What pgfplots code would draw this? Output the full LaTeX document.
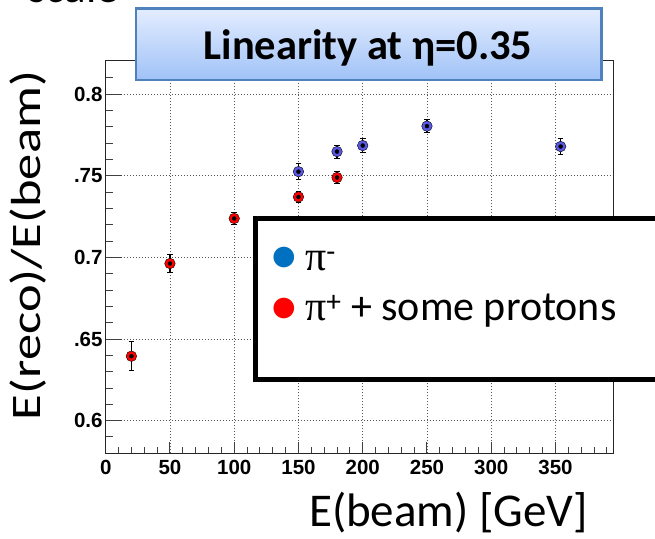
\documentclass[border=0pt]{standalone}
\usepackage{pgfplots}
\pgfplotsset{compat=1.18}
\usepackage{fontspec}
\setmainfont{Carlito}
\newfontfamily\arialfont{Liberation Sans}
\newfontfamily\serifpi{Liberation Serif}
\newfontfamily\dejavu{DejaVu Sans}
\definecolor{pimcol}{RGB}{88,88,228}
\definecolor{pipcol}{RGB}{255,0,0}
\definecolor{legblue}{RGB}{0,112,192}
\definecolor{titletop}{RGB}{228,237,255}
\definecolor{titlebot}{RGB}{160,194,247}
\definecolor{titleborder}{RGB}{79,129,189}

\pgfplotstableread{
x y e
150 0.7526 0.0047
180 0.7649 0.0040
200 0.7686 0.0043
250 0.7805 0.0040
354 0.7680 0.0047
}\pimdata

\pgfplotstableread{
x y e
20  0.6395 0.0090
50  0.6963 0.0053
100 0.7239 0.0036
150 0.7371 0.0036
180 0.7490 0.0036
}\pipdata

\begin{document}
\begin{tikzpicture}[x=1bp,y=1bp]
\fill[white] (0,0) rectangle (655,539);
\node[anchor=base west, inner sep=0, font=\fontsize{45bp}{50bp}\selectfont] at (28,536) {scale};
\begin{axis}[
  at={(105.7bp,85.7bp)}, anchor=south west, scale only axis,
  width=507.6bp, height=392.6bp,
  xmin=0, xmax=395, ymin=0.58, ymax=0.8206,
  xtick={0,50,100,150,200,250,300,350},
  xticklabels={0,50,100,150,200,250,300,350},
  ytick={0.6,0.65,0.7,0.75,0.8},
  yticklabels={0.6,.65,0.7,.75,0.8},
  minor xtick={10,20,30,40,60,70,80,90,110,120,130,140,160,170,180,190,210,220,230,240,260,270,280,290,310,320,330,340,360,370,380,390},
  minor ytick={0.59,0.61,0.62,0.63,0.64,0.66,0.67,0.68,0.69,0.71,0.72,0.73,0.74,0.76,0.77,0.78,0.79,0.81},
  xtick pos=left, ytick pos=left, tick align=inside,
  major x tick style={/pgfplots/major tick length=11bp},
  minor x tick style={/pgfplots/minor tick length=6bp},
  major y tick style={/pgfplots/major tick length=16bp},
  minor y tick style={/pgfplots/minor tick length=7.5bp},
  tick style={line width=1bp, color=black!75},
  grid=major,
  major grid style={line width=0.8bp, dash pattern=on 1bp off 2bp, black!65},
  axis line style={line width=1.1bp, black!85},
  ticklabel style={font=\arialfont\bfseries\fontsize{20.5bp}{24bp}\selectfont},
  xticklabel style={inner sep=0bp, yshift=-6.5bp},
  yticklabel style={inner sep=0bp, xshift=-3bp},
  xlabel={E(beam) [GeV]},
  xlabel style={at={(axis description cs:0.6753,-0.1852)}, anchor=base, inner sep=0pt, font=\fontsize{47bp}{52bp}\selectfont},
  ylabel={\scalebox{1.25}[1]{E(reco)/E(beam)}},
  ylabel style={at={(axis description cs:-0.1294,0.5293)}, anchor=base, inner sep=0pt, font=\fontsize{42bp}{46bp}\selectfont},
]
\addplot[only marks, mark=*, mark size=5.3bp, mark options={draw=none, fill=pimcol}] table[x=x,y=y] {\pimdata};
\addplot[only marks, mark=*, mark size=5.3bp, mark options={draw=none, fill=pipcol}] table[x=x,y=y] {\pipdata};
\addplot[only marks, mark=none, black, error bars/.cd, y dir=both, y explicit,
  error bar style={line width=1.2bp, black},
  error mark options={rotate=90, mark size=2.8bp, line width=1bp, black}]
  table[x=x,y=y,y error=e] {\pimdata};
\addplot[only marks, mark=none, black, error bars/.cd, y dir=both, y explicit,
  error bar style={line width=1.2bp, black},
  error mark options={rotate=90, mark size=2.8bp, line width=1bp, black}]
  table[x=x,y=y,y error=e] {\pipdata};
\end{axis}
% title box
\shade[top color=titletop, bottom color=titlebot] (136,459) rectangle (601.7,530.7);
\draw[titleborder, line width=2.5bp] (136,459) rectangle (601.7,530.7);
\node[anchor=base, inner sep=0, font=\fontsize{42.5bp}{46bp}\selectfont\bfseries] at (368,479.7) {Linearity at η=0.35};
% legend
\draw[line width=5bp, fill=white] (255.7,159) rectangle (700,320.7);
\node[anchor=center, inner sep=0, font=\dejavu\fontsize{27bp}{28bp}\selectfont, text=legblue] at (284,281.7) {●};
\node[anchor=center, inner sep=0, font=\dejavu\fontsize{27bp}{28bp}\selectfont, text=pipcol] at (284,230.7) {●};
\node[anchor=base west, inner sep=0, font=\fontsize{42bp}{46bp}\selectfont] at (305,268.3) {{\serifpi π}\textsuperscript{-}};
\node[anchor=base west, inner sep=0, font=\fontsize{42bp}{46bp}\selectfont] at (305,218.3) {{\serifpi π}\textsuperscript{+} + some protons};
\pgfresetboundingbox
\path[use as bounding box] (0,0) rectangle (655,539);
\end{tikzpicture}
\end{document}
